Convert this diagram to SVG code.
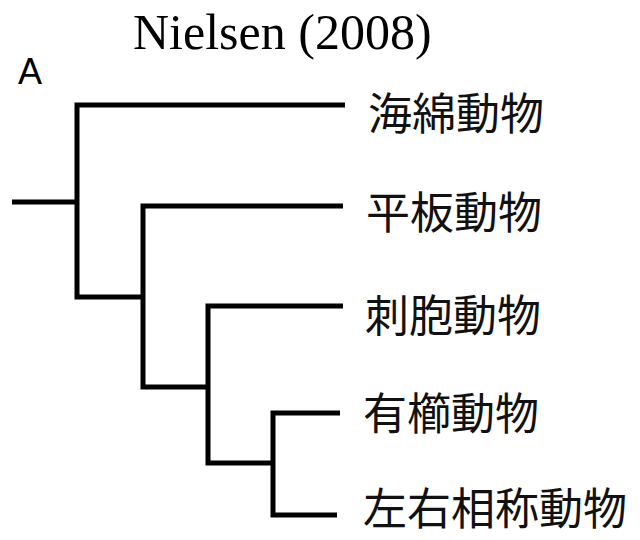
<svg xmlns="http://www.w3.org/2000/svg" width="640" height="540" viewBox="0 0 640 540">
  <style>
    .title { font-family: "Liberation Serif", "Times New Roman", serif; font-size: 50px; fill: #000; }
    .panel { font-family: "Liberation Sans", Arial, sans-serif; font-size: 36px; fill: #000; }
    .label { font-family: "Noto Sans CJK JP", "Noto Sans CJK SC", sans-serif; font-size: 44px; fill: #111; }
    .branch { fill: none; stroke: #000; stroke-width: 5; stroke-linecap: butt; stroke-linejoin: miter; }
  </style>
  <rect width="640" height="540" fill="#fff"/>
  <text class="title" x="133" y="49">Nielsen (2008)</text>
  <text class="panel" x="18" y="84">A</text>
  <g id="connectors">
    <path class="branch" d="M12 202 H77"/>
    <path class="branch" d="M345 105 H77 V297 H143"/>
    <path class="branch" d="M343 206 H143 V387 H208"/>
    <path class="branch" d="M343 306 H208 V463 H273"/>
    <path class="branch" d="M340 413 H273 V515 H337"/>
  </g>
  <g id="node-porifera"><text class="label" x="368" y="130">海綿動物</text></g>
  <g id="node-placozoa"><text class="label" x="366" y="229">平板動物</text></g>
  <g id="node-cnidaria"><text class="label" x="365" y="332">刺胞動物</text></g>
  <g id="node-ctenophora"><text class="label" x="363" y="430">有櫛動物</text></g>
  <g id="node-bilateria"><text class="label" x="363" y="525">左右相称動物</text></g>
</svg>
